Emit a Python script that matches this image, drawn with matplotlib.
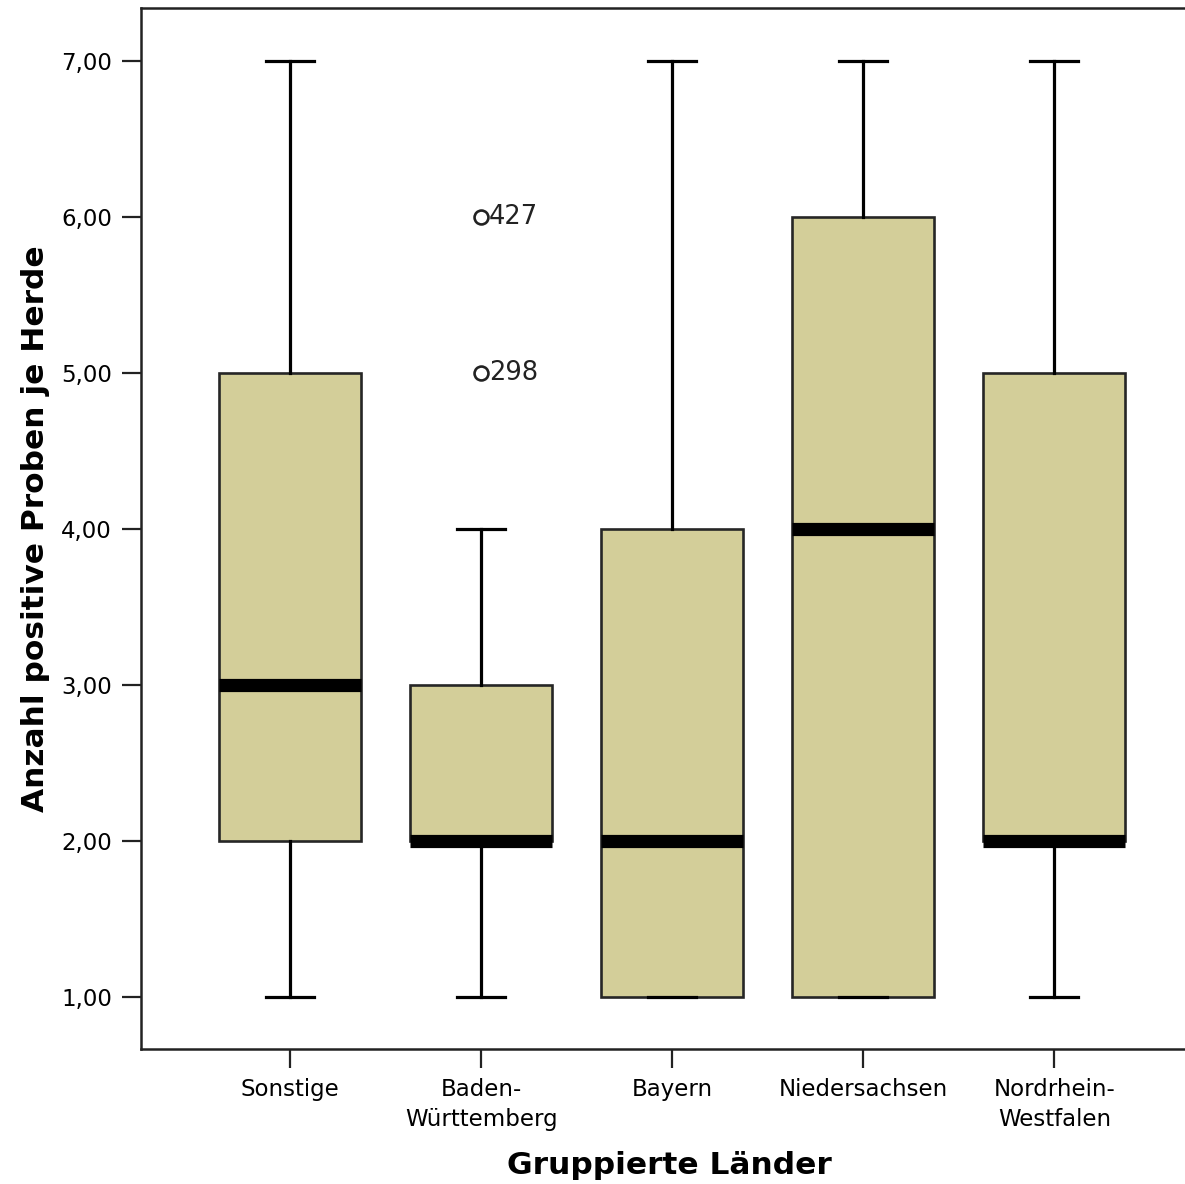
import matplotlib
matplotlib.use("Agg")
import matplotlib.pyplot as plt

# Box plot statistics per group
groups = ["Sonstige", "Baden-\nWürttemberg", "Bayern", "Niedersachsen", "Nordrhein-\nWestfalen"]
whis_low = [1, 1, 1, 1, 1]
q1 = [2, 2, 1, 1, 2]
median = [3, 2, 2, 4, 2]
q3 = [5, 3, 4, 6, 5]
whis_high = [7, 4, 7, 7, 7]
outliers = [[], [6, 5], [], [], []]
outlier_ids = [[], ["427", "298"], [], [], []]

y_ticks = [1, 2, 3, 4, 5, 6, 7]

stats = []
for i in range(len(groups)):
    stats.append({
        "whislo": whis_low[i], "q1": q1[i], "med": median[i],
        "q3": q3[i], "whishi": whis_high[i], "fliers": outliers[i],
    })

plt.rcParams["font.family"] = "DejaVu Sans"

fig = plt.figure(figsize=(11.85, 11.84), dpi=100)
ax = fig.add_axes([141 / 1185, 1 - 1049 / 1184, 1 - 141 / 1185 + 0.01, (1049 - 8) / 1184])

positions = list(range(1, len(groups) + 1))
ax.bxp(stats, positions=positions, widths=0.745, patch_artist=True, showfliers=False,
       boxprops=dict(facecolor="#d3ce99", edgecolor="#262626", linewidth=1.9),
       medianprops=dict(color="black", linewidth=9.5, solid_capstyle="butt"),
       whiskerprops=dict(color="black", linewidth=2.3),
       capprops=dict(color="black", linewidth=2.3),
       capwidths=0.25)

# Outliers with their case numbers
for pos, vals, ids in zip(positions, outliers, outlier_ids):
    for v, label in zip(vals, ids):
        ax.plot(pos, v, marker="o", markersize=10, markerfacecolor="white",
                markeredgecolor="#222222", markeredgewidth=1.9, zorder=5)
        ax.text(pos + 0.04, v, label, fontsize=18.5, va="center", ha="left", color="#222222")

ax.set_xlim(0.22, 5.686 + 0.06)
ax.set_ylim(0.667, 7.34)
ax.set_xticks(positions)
ax.set_xticklabels(groups, fontsize=16.5, linespacing=1.4)
ax.set_yticks(y_ticks)
ax.set_yticklabels([f"{v:.2f}".replace(".", ",") for v in y_ticks], fontsize=16.5)

ax.tick_params(axis="both", direction="out", length=14, width=1.6, color="#222222", pad=7)
for side in ["left", "bottom", "top"]:
    ax.spines[side].set_linewidth(1.8)
    ax.spines[side].set_color("#222222")
ax.spines["right"].set_visible(False)

ax.set_xlabel("Gruppierte Länder", fontsize=22.5, fontweight="bold", labelpad=14)
ax.set_ylabel("Anzahl positive Proben je Herde", fontsize=22.5, fontweight="bold", labelpad=8)

fig.savefig("out.png", dpi=100)
